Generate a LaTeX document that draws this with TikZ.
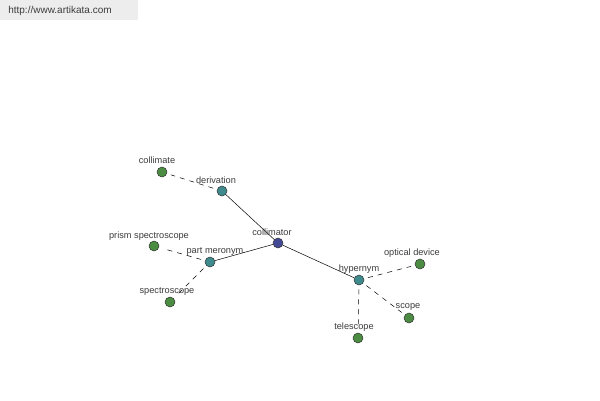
\documentclass[tikz,border=0pt]{standalone}
\usepackage{fontspec}
\setmainfont{Liberation Sans}
\usepackage{xcolor}
\usepackage{tikz}
\usetikzlibrary{positioning}

\definecolor{leafgreen}{RGB}{76,140,66}
\definecolor{relteal}{RGB}{62,138,140}
\definecolor{rootblue}{RGB}{66,72,148}
\definecolor{labelgray}{RGB}{60,60,60}

\begin{document}
\begin{tikzpicture}[x=1pt, y=-1pt,
    dot/.style={circle, draw=black!80, line width=0.5pt, inner sep=0pt, minimum size=10pt},
    leaf/.style={dot, fill=leafgreen},
    rel/.style={dot, fill=relteal},
    root/.style={dot, fill=rootblue},
    lbl/.style={inner sep=0pt, text=labelgray, font=\fontsize{9.2}{11}\selectfont},
    solidedge/.style={draw=black, line width=0.5pt},
    dashedge/.style={draw=black, line width=0.5pt, dash pattern=on 5pt off 5pt, shorten <=4pt, shorten >=4pt}]
    % Cadre de la page
    \useasboundingbox (0,0) rectangle (600,400);
    \fill[white] (0,0) rectangle (600,400);
    \fill[black!7] (0,0) rectangle (138,20);
    \node[lbl, font=\fontsize{10}{12}\selectfont] (site) at (60,11) {http://www.artikata.com};

    % Noeuds du graphe
    \node[root] (collimator) at (278,243) {};
    \node[rel] (derivation) at (222,191) {};
    \node[rel] (partmeronym) at (210,262) {};
    \node[rel] (hypernym) at (359,280) {};
    \node[leaf] (collimate) at (162,172) {};
    \node[leaf] (prism) at (154,246) {};
    \node[leaf] (spectro) at (170,302) {};
    \node[leaf] (optical) at (420,264) {};
    \node[leaf] (scope) at (409,318) {};
    \node[leaf] (telescope) at (358,338) {};

    % Liens
    \draw[solidedge] (collimator) -- (derivation);
    \draw[solidedge] (collimator) -- (partmeronym);
    \draw[solidedge] (collimator) -- (hypernym);
    \draw[dashedge] (derivation) -- (collimate);
    \draw[dashedge] (partmeronym) -- (prism);
    \draw[dashedge] (partmeronym) -- (spectro);
    \draw[dashedge] (hypernym) -- (optical);
    \draw[dashedge] (hypernym) -- (scope);
    \draw[dashedge] (hypernym) -- (telescope);

    % Etiquettes
    \node[lbl] (collimatorlbl) at (272,232) {collimator};
    \node[lbl] (derivationlbl) at (216,180) {derivation};
    \node[lbl] (partmeronymlbl) at (215,251) {part meronym};
    \node[lbl] (hypernymlbl) at (359,269) {hypernym};
    \node[lbl] (collimatelbl) at (157,160) {collimate};
    \node[lbl] (prismlbl) at (149,236) {prism spectroscope};
    \node[lbl] (spectrolbl) at (167,291) {spectroscope};
    \node[lbl] (opticallbl) at (412,253) {optical device};
    \node[lbl] (scopelbl) at (408,307) {scope};
    \node[lbl] (telescopelbl) at (354,327) {telescope};
\end{tikzpicture}
\end{document}
